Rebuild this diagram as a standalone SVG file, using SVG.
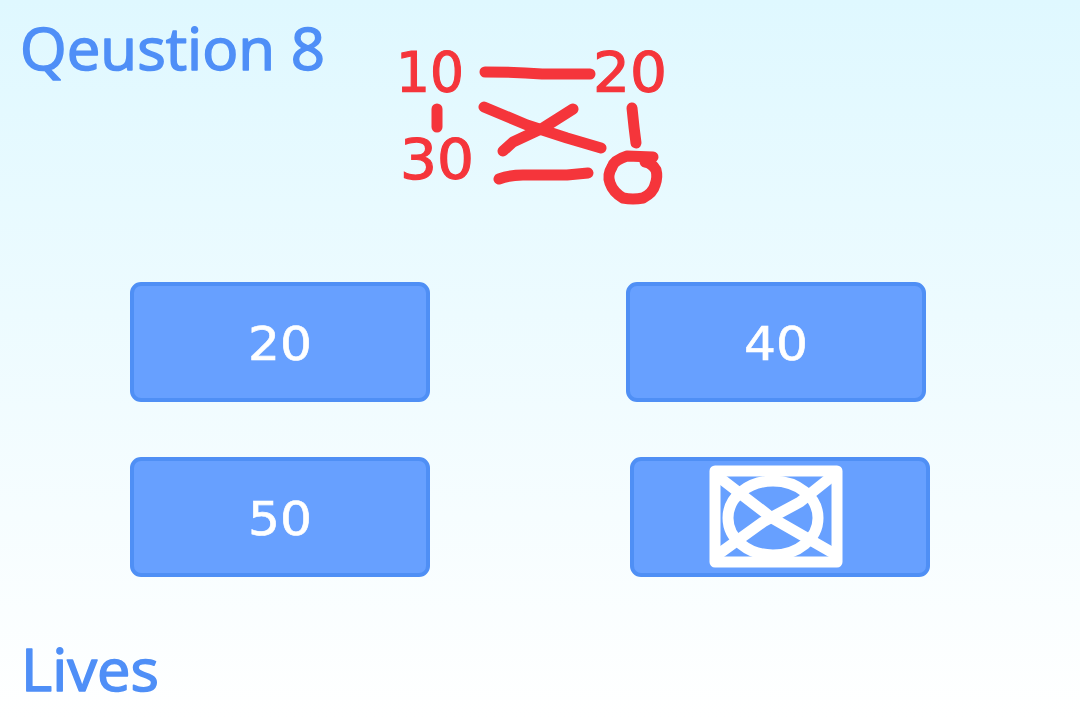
<svg xmlns="http://www.w3.org/2000/svg" width="1080" height="720" viewBox="0 0 1080 720">
<style>
.title{font-family:"Open Sans","Noto Sans",sans-serif;font-size:58px;fill:#4f8ff7;stroke:#4f8ff7;stroke-width:1.5px;stroke-linejoin:round;font-variant-ligatures:none}
.btn{fill:#67a0ff;stroke:#4f8ff5;stroke-width:4}
.lbl{font-family:"DejaVu Sans",sans-serif;font-size:46px;fill:#fff;stroke:#fff;stroke-width:.6px;text-anchor:middle}
.red{font-family:"DejaVu Sans",sans-serif;font-size:56px;fill:#f5353b;stroke:#f5353b;stroke-width:1.2px}
.ink{fill:none;stroke-linecap:round;stroke-linejoin:round}
.r{stroke:#f5353b;stroke-width:11}
.w{stroke:#fff;stroke-width:11}
</style>
<defs><linearGradient id="bg" x1="0" y1="0" x2="0" y2="1"><stop offset="0" stop-color="#dff8ff"/><stop offset="1" stop-color="#ffffff"/></linearGradient></defs>
<rect width="1080" height="720" fill="url(#bg)"/>
<g id="title"><text class="title" x="20" y="70" textLength="305" lengthAdjust="spacingAndGlyphs">Qeustion 8</text></g>
<g id="lives"><text class="title" x="21" y="691" textLength="138" lengthAdjust="spacingAndGlyphs">Lives</text></g>
<g id="puzzle">
<text class="red" x="396" y="91" textLength="68" lengthAdjust="spacingAndGlyphs">10</text>
<text class="red" x="593" y="91" textLength="74" lengthAdjust="spacingAndGlyphs">20</text>
<text class="red" x="400" y="178" textLength="74" lengthAdjust="spacingAndGlyphs">30</text>
<path class="ink r" d="M485 72Q515 72 542 74L590 74"/>
<path class="ink r" d="M437 109V127"/>
<path class="ink r" d="M632 108L634 127L636 143"/>
<path class="ink r" d="M484 107L527 125L567 138L601 148"/>
<path class="ink r" d="M573 109L543 128L513 142L503 151"/>
<path class="ink r" d="M499 179Q510 175 523 175L567 175L588 173"/>
<path class="ink r" d="M653 157L627 156Q614 160 612 167Q607 175 610 183Q613 192 623 198Q633 200 643 198Q653 193 655 185Q658 177 656 170Q652 163 645 162"/>
</g>
<g id="answer-20"><rect class="btn" x="132" y="284" width="296" height="116" rx="9"/><text class="lbl" x="280" y="360" textLength="64" lengthAdjust="spacingAndGlyphs">20</text></g>
<g id="answer-40"><rect class="btn" x="628" y="284" width="296" height="116" rx="9"/><text class="lbl" x="776" y="360" textLength="64" lengthAdjust="spacingAndGlyphs">40</text></g>
<g id="answer-50"><rect class="btn" x="132" y="459" width="296" height="116" rx="9"/><text class="lbl" x="280" y="535" textLength="64" lengthAdjust="spacingAndGlyphs">50</text></g>
<g id="answer-sketch"><rect class="btn" x="632" y="459" width="296" height="116" rx="9"/>
<path class="ink w" d="M715 471H837V562H715Z"/>
<ellipse class="ink w" cx="773" cy="518" rx="45" ry="37"/>
<path class="ink w" d="M720 478L772 518L833 553"/>
<path class="ink w" d="M830 478L800 502L763 522L720 553"/>
</g>
</svg>
